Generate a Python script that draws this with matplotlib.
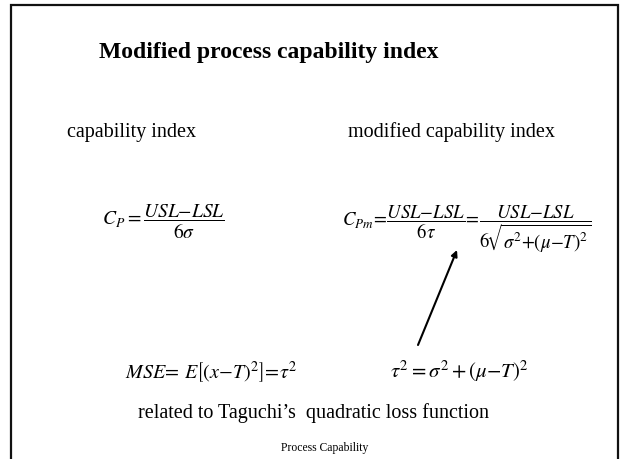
import matplotlib
matplotlib.use("Agg")
import matplotlib.pyplot as plt

plt.rcParams['mathtext.fontset'] = 'stix'
SERIF = ['Liberation Serif', 'DejaVu Serif']

title = "Modified process capability index"
left_label = "capability index"
right_label = "modified capability index"
cp_formula = r'$C_P = \dfrac{USL{-}LSL}{6\sigma}$'
cpm_formula = (r'$C_{Pm}\!=\!\dfrac{USL{-}LSL}{6\tau}\!=\!'
               r'\dfrac{USL{-}LSL}{6\!\sqrt{\sigma^2{+}(\mu{-}T)^2}}$')
mse_formula = r'$MSE\!=\,E\left[(x{-}T)^2\right]\!=\!\tau^2$'
tau_formula = r'$\tau^2 = \sigma^2 + (\mu{-}T)^2$'
note = "related to Taguchi\u2019s  quadratic loss function"
footer = "Process Capability"

W, H = 620, 459
fig = plt.figure(figsize=(W / 100, H / 100), dpi=100)
ax = fig.add_axes([0, 0, 1, 1])
ax.set_xlim(0, W)
ax.set_ylim(H, 0)
ax.axis('off')

# slide frame (left, top, right)
ax.plot([11, 11, 618, 618], [H + 5, 5, 5, H + 5], color='#111111', lw=1.6,
        solid_joinstyle='miter', clip_on=False)

ax.text(99, 58, title, family=SERIF, weight='bold', fontsize=17, ha='left', va='baseline')
ax.text(67, 137, left_label, family=SERIF, fontsize=14.5, ha='left', va='baseline')
ax.text(348, 137, right_label, family=SERIF, fontsize=14.5, ha='left', va='baseline')

ax.text(102, 226, cp_formula, fontsize=14, ha='left', va='baseline')
ax.text(342, 226, cpm_formula, fontsize=13.5, ha='left', va='baseline')
ax.text(125, 378, mse_formula, fontsize=14.5, ha='left', va='baseline')
ax.text(390, 378, tau_formula, fontsize=15, ha='left', va='baseline')

ax.text(138, 418, note, family=SERIF, fontsize=14.5, ha='left', va='baseline')
ax.text(325, 451, footer, family=SERIF, fontsize=8.4, ha='center', va='baseline')

ax.annotate('', xy=(457, 250), xytext=(418, 345),
            arrowprops=dict(arrowstyle='-|>', color='black', lw=1.5,
                            mutation_scale=9, shrinkA=0, shrinkB=0))

fig.savefig('out.png', dpi=100)
